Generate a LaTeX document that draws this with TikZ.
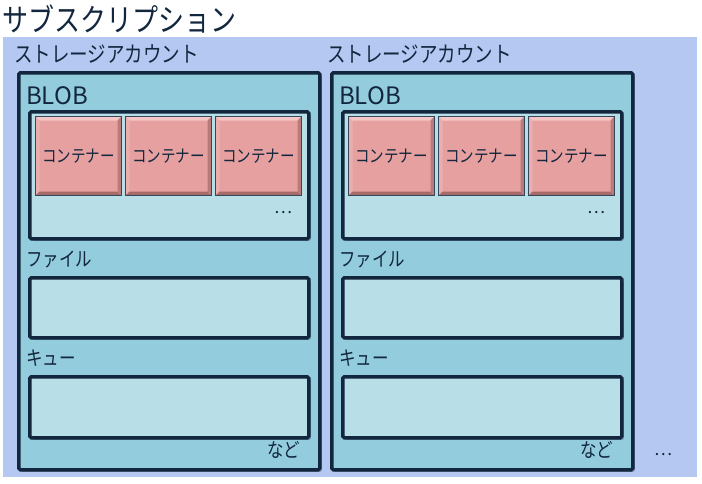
\documentclass[tikz,border=0pt]{standalone}
\usepackage{fontspec}
\setmainfont{Noto Sans CJK JP}
\usepackage{xcolor}
\usepackage{graphicx}
\usetikzlibrary{shadows}
\definecolor{subbg}{HTML}{B4C8F2}
\definecolor{ink}{HTML}{12263E}
\definecolor{acctfill}{HTML}{93CDDD}
\definecolor{innerfill}{HTML}{B8DEE8}
\definecolor{contfill}{HTML}{E6A0A0}
\definecolor{contlight}{HTML}{F4C6C6}
\definecolor{contdark}{HTML}{A66A6A}
\newcommand{\tallj}[1]{\scalebox{1}[1.2]{#1}}

\tikzset{
  lbl/.style={anchor=north west, inner sep=0pt, text=ink},
  boxshadow/.style={drop shadow={shadow xshift=2pt, shadow yshift=-2pt, opacity=0.35, fill=ink}},
  acct/.style={draw=ink, line width=3.5pt, fill=acctfill, rounded corners=1.5pt,
    anchor=north west, inner sep=0pt, minimum width=301pt, minimum height=397pt, boxshadow},
  store/.style={draw=ink, line width=3.5pt, fill=innerfill, rounded corners=1.5pt,
    anchor=north west, inner sep=0pt, minimum width=279pt, boxshadow},
  cont/.style={draw=ink!85, line width=1pt, fill=contfill, anchor=north west, inner sep=0pt,
    minimum width=86pt, minimum height=79pt, font=\fontsize{14.5}{14.5}\selectfont, text=ink,
    path picture={
      \fill[contlight] (path picture bounding box.north west) -- (path picture bounding box.north east)
        -- ([xshift=-4pt,yshift=-4pt]path picture bounding box.north east)
        -- ([xshift=4pt,yshift=-4pt]path picture bounding box.north west) -- cycle;
      \fill[contfill!85!white] (path picture bounding box.north west) -- (path picture bounding box.south west)
        -- ([xshift=4pt,yshift=4pt]path picture bounding box.south west)
        -- ([xshift=4pt,yshift=-4pt]path picture bounding box.north west) -- cycle;
      \fill[contdark] (path picture bounding box.south west) -- (path picture bounding box.south east)
        -- ([xshift=-4pt,yshift=4pt]path picture bounding box.south east)
        -- ([xshift=4pt,yshift=4pt]path picture bounding box.south west) -- cycle;
      \fill[contdark!70!contfill] (path picture bounding box.north east) -- (path picture bounding box.south east)
        -- ([xshift=-4pt,yshift=4pt]path picture bounding box.south east)
        -- ([xshift=-4pt,yshift=-4pt]path picture bounding box.north east) -- cycle;
    }}
}

\begin{document}
\begin{tikzpicture}[x=1pt, y=-1pt]
  \useasboundingbox (0,0) rectangle (702,483);
  \fill[subbg] (3,37) rectangle (697,477);
  \node[lbl, font=\fontsize{26}{26}\selectfont] (title) at (2,5) {\tallj{サブスクリプション}};

  \foreach \i/\x in {1/17, 2/330} {
    \node[lbl, font=\fontsize{18.5}{18.5}\selectfont] (acctlbl\i) at (\x-3,45) {\tallj{ストレージアカウント}};
    \node[acct] (acct\i) at (\x,71) {};
    % BLOB
    \node[lbl, font=\fontsize{24}{24}\selectfont] (bloblbl\i) at (\x+9,86) {BLOB};
    \node[store, minimum height=127pt] (blob\i) at (\x+11,110) {};
    \foreach \j in {0,1,2}
      \node[cont] (cont\i\j) at (\x+18+90*\j,116) {\tallj{コンテナー}};
    \node[lbl, font=\fontsize{17}{17}\selectfont] (blobmore\i) at (\x+257,211) {…};
    % ファイル
    \node[lbl, font=\fontsize{16.5}{16.5}\selectfont] (filelbl\i) at (\x+9,251) {\tallj{ファイル}};
    \node[store, minimum height=60pt] (file\i) at (\x+11,276) {};
    % キュー
    \node[lbl, font=\fontsize{16.5}{16.5}\selectfont] (queuelbl\i) at (\x+9,350) {\tallj{キュー}};
    \node[store, minimum height=61pt] (queue\i) at (\x+11,375) {};
    \node[lbl, font=\fontsize{16.5}{16.5}\selectfont] (etc\i) at (\x+250,441) {\tallj{など}};
  }
  \node[lbl, font=\fontsize{17}{17}\selectfont] (acctmore) at (654,453) {…};
\end{tikzpicture}
\end{document}
